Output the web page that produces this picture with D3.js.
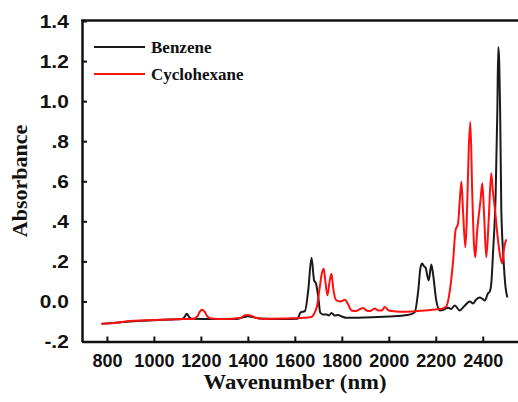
<!DOCTYPE html>
<html>
<head>
<meta charset="utf-8">
<script src="https://cdn.jsdelivr.net/npm/d3@7"></script>
<style>
  body { margin: 0; background: #fff; }
  .tick text { font-family: "Liberation Sans", Arial, sans-serif; font-weight: bold; font-size: 19px; fill: #111; }
  .title { font-family: "Liberation Serif", "Times New Roman", serif; font-weight: bold; fill: #111; }
</style>
</head>
<body>
<div id="chart"></div>
<script>
// benzene spectrum (wavenumber, absorbance)
var benzeneX = [777, 850, 900, 1000, 1080, 1120, 1132, 1140, 1150, 1160, 1250, 1350, 1385, 1400, 1420, 1450, 1550, 1610,
  1625, 1643, 1657, 1671, 1682, 1690, 1700, 1708, 1720, 1735, 1745, 1756, 1770, 1784, 1800, 1820, 1900, 2000, 2080, 2110,
  2125, 2135, 2142, 2150, 2156, 2170, 2181, 2188, 2202, 2217, 2235, 2253, 2265, 2281, 2302, 2320, 2345, 2359, 2372, 2387,
  2400, 2409, 2422, 2430, 2437, 2444, 2455, 2462, 2466, 2470, 2474, 2479, 2487, 2497, 2505];
var benzeneY = [-0.112, -0.105, -0.1, -0.094, -0.09, -0.088, -0.075, -0.062, -0.078, -0.086, -0.088, -0.088, -0.078, -0.074,
  -0.078, -0.085, -0.088, -0.087, -0.055, -0.048, 0.055, 0.218, 0.105, 0.09, 0.02, -0.055, -0.065, -0.065, -0.07, -0.058,
  -0.07, -0.068, -0.075, -0.082, -0.08, -0.075, -0.068, -0.055, 0.05, 0.17, 0.19, 0.175, 0.17, 0.105, 0.185, 0.14, 0.005,
  -0.045, -0.04, -0.032, -0.038, -0.02, -0.045, -0.025, 0.0, -0.01, 0.01, 0.02, 0.012, 0.005, 0.04, 0.05, 0.1, 0.25, 0.54,
  0.95, 1.27, 1.2, 0.95, 0.455, 0.24, 0.07, 0.02];

// cyclohexane spectrum
var cycloX = [777, 850, 900, 1000, 1100, 1170, 1185, 1195, 1205, 1215, 1228, 1245, 1300, 1370, 1385, 1400, 1415, 1430, 1460,
  1550, 1640, 1670, 1685, 1695, 1706, 1715, 1723, 1730, 1739, 1748, 1756, 1764, 1777, 1795, 1813, 1825, 1841, 1860, 1875,
  1891, 1905, 1920, 1940, 1955, 1970, 1983, 2000, 2030, 2060, 2100, 2150, 2200, 2230, 2245, 2260, 2274, 2284, 2295, 2302,
  2309, 2316, 2326, 2333, 2340, 2347, 2355, 2362, 2368, 2376, 2384, 2390, 2398, 2405, 2415, 2425, 2436, 2443, 2451, 2465,
  2475, 2483, 2490, 2500];
var cycloY = [-0.112, -0.105, -0.098, -0.093, -0.089, -0.086, -0.075, -0.052, -0.042, -0.05, -0.075, -0.085, -0.088, -0.082,
  -0.07, -0.068, -0.072, -0.08, -0.086, -0.085, -0.082, -0.078, -0.055, -0.02, 0.07, 0.14, 0.163, 0.1, 0.03, 0.1, 0.138,
  0.06, 0.005, 0.0, 0.008, -0.01, -0.045, -0.048, -0.04, -0.033, -0.045, -0.048, -0.035, -0.045, -0.045, -0.028, -0.045,
  -0.05, -0.052, -0.05, -0.045, -0.04, -0.035, -0.025, 0.055, 0.205, 0.355, 0.39, 0.5, 0.597, 0.45, 0.27, 0.45, 0.75, 0.897,
  0.55, 0.3, 0.22, 0.35, 0.44, 0.5, 0.59, 0.45, 0.22, 0.4, 0.64, 0.55, 0.47, 0.305, 0.22, 0.19, 0.26, 0.31];

var xTicks = [800, 1000, 1200, 1400, 1600, 1800, 2000, 2200, 2400];
var yTicks = [-0.2, 0, 0.2, 0.4, 0.6, 0.8, 1.0, 1.2, 1.4];
var yTickLabels = ["-.2", "0.0", ".2", ".4", ".6", ".8", "1.0", "1.2", "1.4"];
var seriesNames = ["Benzene", "Cyclohexane"];
var seriesColors = ["#1a1a1a", "#ff1010"];

var width = 518, height = 402;
var svg = d3.select("#chart").append("svg")
  .attr("width", width)
  .attr("height", height);

var x = d3.scaleLinear().domain([694, 2550]).range([82, 518]);
var y = d3.scaleLinear().domain([-0.2, 1.4]).range([341.5, 21]);

// y axis
var yAxis = svg.append("g")
  .attr("transform", "translate(82,0)")
  .call(d3.axisLeft(y).tickValues(yTicks).tickSize(-5).tickSizeOuter(0).tickPadding(12)
    .tickFormat(function (d, i) { return yTickLabels[i]; }));
yAxis.selectAll(".tick line").attr("stroke", "#111").attr("stroke-width", 2);
yAxis.select(".domain").attr("stroke", "#111").attr("stroke-width", 2.5);
yAxis.selectAll(".tick text").attr("transform", "scale(1.1,1)");

// x axis
var xAxis = svg.append("g")
  .attr("transform", "translate(0,341.5)")
  .call(d3.axisBottom(x).tickValues(xTicks).tickSize(-5).tickSizeOuter(0).tickPadding(13)
    .tickFormat(d3.format("d")));
xAxis.selectAll(".tick line").attr("stroke", "#111").attr("stroke-width", 2);
xAxis.select(".domain").attr("stroke", "#111").attr("stroke-width", 2.5);
xAxis.selectAll(".tick text").style("font-size", "18px");

// top border
svg.append("line")
  .attr("x1", 81).attr("x2", 518)
  .attr("y1", 20.5).attr("y2", 20.5)
  .attr("stroke", "#111").attr("stroke-width", 2.5);

var line = d3.line()
  .x(function (d) { return x(d[0]); })
  .y(function (d) { return y(d[1]); })
  .curve(d3.curveMonotoneX);

var series = [d3.zip(benzeneX, benzeneY), d3.zip(cycloX, cycloY)];
series.forEach(function (data, i) {
  svg.append("path")
    .datum(data)
    .attr("fill", "none")
    .attr("stroke", seriesColors[i])
    .attr("stroke-width", 2)
    .attr("stroke-linejoin", "round")
    .attr("d", line);
});

// legend
seriesNames.forEach(function (name, i) {
  var ly = 47 + i * 27;
  svg.append("line")
    .attr("x1", 94).attr("x2", 145)
    .attr("y1", ly).attr("y2", ly)
    .attr("stroke", seriesColors[i]).attr("stroke-width", 1.8);
  svg.append("text")
    .attr("class", "title")
    .attr("x", 151).attr("y", ly + 6)
    .style("font-size", "17px")
    .text(name);
});

// axis titles
svg.append("text")
  .attr("class", "title")
  .attr("x", 295).attr("y", 389)
  .attr("text-anchor", "middle")
  .attr("textLength", 183)
  .attr("lengthAdjust", "spacingAndGlyphs")
  .style("font-size", "21px")
  .text("Wavenumber (nm)");

svg.append("text")
  .attr("class", "title")
  .attr("transform", "translate(27,181) rotate(-90)")
  .attr("text-anchor", "middle")
  .style("font-size", "22px")
  .text("Absorbance");
</script>
</body>
</html>
